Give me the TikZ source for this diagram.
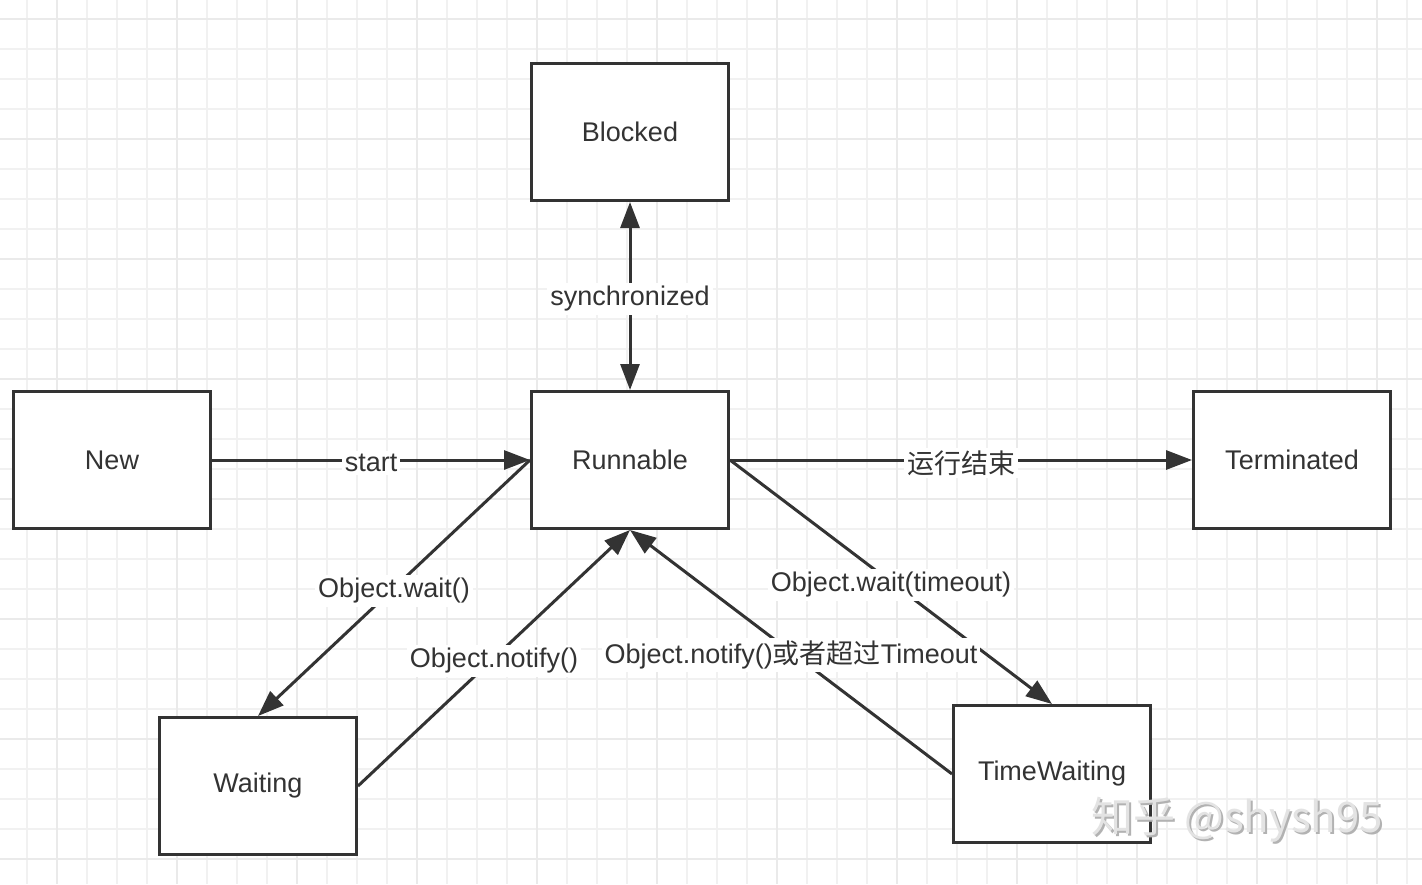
\documentclass[tikz,border=0pt]{standalone}
\usepackage{fontspec}
\setmainfont{Liberation Sans}
\newfontfamily\cjk{Noto Sans CJK SC}
\usetikzlibrary{arrows.meta,positioning}
\definecolor{lineclr}{HTML}{333333}
\definecolor{gridclr}{HTML}{F1F1F1}
\definecolor{gridmaj}{HTML}{EAEAEA}
\tikzstyle{state}=[rectangle,draw=lineclr,line width=1.5pt,fill=white,
minimum width=98.5pt,minimum height=68.5pt,text=lineclr,font=\fontsize{13.5}{16}\selectfont]
\tikzstyle{trans}=[draw=lineclr,line width=1.5pt,-{Triangle[length=13pt,width=9.5pt]}]
\tikzstyle{both}=[draw=lineclr,line width=1.5pt,{Triangle[length=13pt,width=9.5pt]}-{Triangle[length=13pt,width=9.5pt]}]
\tikzstyle{lbl}=[fill=white,inner sep=1.5pt,yshift=-1.5pt,text=lineclr,font=\fontsize{13.5}{16}\selectfont]
\begin{document}
\begin{tikzpicture}[x=0.5pt,y=-0.5pt]
			\useasboundingbox[fill=white] (0,0) rectangle (1422,884);
			% grid
			\foreach \gx in {27,57,...,1422} \draw[gridclr,line width=0.6pt] (\gx,0) -- (\gx,884);
			\foreach \gy in {19,49,...,884} \draw[gridclr,line width=0.6pt] (0,\gy) -- (1422,\gy);
			\foreach \gx in {57,177,...,1422} \draw[gridmaj,line width=1.1pt] (\gx,0) -- (\gx,884);
			\foreach \gy in {19,139,...,884} \draw[gridmaj,line width=1.1pt] (0,\gy) -- (1422,\gy);

			% states
			\node[state] (run) at (630,460) {Runnable};
			\node[state,above=94pt of run] (blk) {Blocked};
			\node[state,left=159pt of run] (new) {New};
			\node[state,right=231pt of run] (term) {Terminated};
			\node[state,below=93pt of run,xshift=-186pt] (wait) {Waiting};
			\node[state,below=87pt of run,xshift=211pt] (twait) {TimeWaiting};

			% transitions
			\path (run) edge[both] node[lbl] {synchronized} (blk);
			\path (new) edge[trans] node[lbl] {start} (run);
			\path (run) edge[trans] node[lbl] {\cjk 运行结束} (term);
			\path (run.west) edge[trans] node[lbl] {Object.wait()} (wait.north);
			\path (wait.east) edge[trans] node[lbl] {Object.notify()} (run.south);
			\path (run.east) edge[trans] node[lbl] {Object.wait(timeout)} (twait.north);
			\path (twait.west) edge[trans] node[lbl] {Object.notify(){\cjk 或者超过}Timeout} (run.south);

			% watermark
			\node[text=gray!60,font=\cjk\fontsize{21}{24}\selectfont] (wm0) at (1239,822) {知乎 @shysh95};
			\node[text=gray!22,font=\cjk\fontsize{21}{24}\selectfont] (wm) at (1237,820) {知乎 @shysh95};
		\end{tikzpicture}
\end{document}
